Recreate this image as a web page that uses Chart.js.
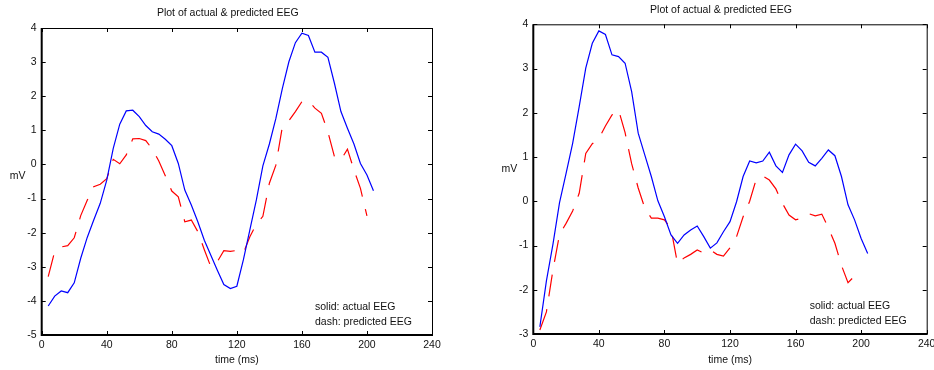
<!DOCTYPE html>
<html>
<head>
<meta charset="utf-8">
<script src="https://cdn.jsdelivr.net/npm/chart.js@4.4.1/dist/chart.umd.min.js"></script>
<style>
  html, body { margin: 0; padding: 0; background: #fff; overflow: hidden; }
  body { width: 934px; height: 370px; position: relative; }
  canvas { position: absolute; top: 0; }
  #chartLeft { left: 0; }
  #chartRight { left: 467px; }
</style>
</head>
<body>
<canvas id="chartLeft" width="467" height="370"></canvas>
<canvas id="chartRight" width="480" height="370"></canvas>
<script>
// time of each sample (ms)
const timesMs = [4, 8, 12, 16, 20, 24, 28, 32, 36, 40, 44, 48, 52, 56, 60, 64, 68, 72, 76, 80,
    84, 88, 92, 96, 100, 104, 108, 112, 116, 120, 124, 128, 132, 136, 140, 144, 148, 152, 156, 160,
    164, 168, 172, 176, 180, 184, 188, 192, 196, 200, 204];

// left panel (mV)
const leftActual = [-4.15, -3.86, -3.71, -3.76, -3.47, -2.75, -2.14, -1.63, -1.14, -0.46,
    0.47, 1.18, 1.57, 1.59, 1.40, 1.14, 0.96, 0.89, 0.74, 0.55,
    0.03, -0.75, -1.19, -1.68, -2.22, -2.66, -3.10, -3.52, -3.64, -3.57,
    -2.80, -1.92, -1.04, -0.04, 0.60, 1.35, 2.23, 3.01, 3.57, 3.85,
    3.78, 3.29, 3.29, 3.14, 2.38, 1.55, 1.06, 0.60, 0.03, -0.31, -0.77];
const leftPredicted = [-3.29, -2.55, -2.42, -2.38, -2.15, -1.50, -1.05, -0.65, -0.58, -0.42,
    0.15, 0.02, 0.28, 0.75, 0.76, 0.70, 0.45, 0.10, -0.33, -0.78,
    -0.95, -1.68, -1.63, -1.97, -2.50, -3.00, -2.85, -2.53, -2.55, -2.52,
    -2.60, -2.12, -1.75, -1.52, -0.55, -0.02, 1.11, 1.28, 1.55, 1.84,
    1.87, 1.65, 1.50, 0.95, 0.23, 0.13, 0.45, -0.16, -0.70, -1.51];

// right panel (mV)
const rightActual = [-2.84, -1.80, -0.97, -0.03, 0.63, 1.31, 2.14, 3.01, 3.57, 3.85,
    3.77, 3.31, 3.27, 3.12, 2.48, 1.54, 1.05, 0.56, 0.01, -0.35,
    -0.76, -0.95, -0.76, -0.65, -0.56, -0.80, -1.06, -0.94, -0.69, -0.46,
    -0.01, 0.56, 0.91, 0.87, 0.91, 1.11, 0.80, 0.65, 1.05, 1.29,
    1.14, 0.88, 0.80, 0.97, 1.16, 1.03, 0.56, -0.08, -0.42, -0.84, -1.18];
const rightPredicted = [-2.91, -2.50, -1.55, -0.75, -0.50, -0.22, 0.18, 1.08, 1.30, 1.42,
    1.70, 1.95, 2.07, 1.55, 0.85, 0.30, -0.15, -0.38, -0.38, -0.42,
    -0.62, -1.41, -1.28, -1.20, -1.10, -1.17, -1.10, -1.20, -1.24, -1.05,
    -0.80, -0.35, 0.00, 0.50, 0.57, 0.48, 0.28, -0.05, -0.31, -0.42,
    -0.38, -0.28, -0.33, -0.29, -0.60, -0.95, -1.45, -1.84, -1.69, -1.54];

const xTicks = [0, 40, 80, 120, 160, 200, 240];
const titleText = 'Plot of actual & predicted EEG';
const legendLines = ['solid: actual EEG', 'dash: predicted EEG'];

const FONT = '"Liberation Sans", Arial, sans-serif';
const FONT_SIZE = 10.5;

// MATLAB style box: frame, inward ticks, title, horizontal ylabel, text note
const matlabAxes = {
    id: 'matlabAxes',
    afterDraw(chart, args, opts) {
        const { ctx, chartArea: a, scales } = chart;
        const tl = 4;
        ctx.save();
        ctx.strokeStyle = '#000';

        ctx.lineWidth = 1;
        ctx.beginPath();
        ctx.moveTo(a.left, a.top + 0.5);
        ctx.lineTo(a.right + 0.5, a.top + 0.5);
        ctx.lineTo(a.right + 0.5, a.bottom);
        ctx.stroke();

        ctx.lineWidth = 2;
        ctx.beginPath();
        ctx.moveTo(a.left, a.top);
        ctx.lineTo(a.left, a.bottom);
        ctx.lineTo(a.right + 1, a.bottom);
        ctx.stroke();

        ctx.lineWidth = 1;
        ctx.beginPath();
        scales.x.ticks.forEach((t) => {
            const px = Math.round(scales.x.getPixelForValue(t.value)) + 0.5;
            ctx.moveTo(px, a.bottom);
            ctx.lineTo(px, a.bottom - tl);
            ctx.moveTo(px, a.top);
            ctx.lineTo(px, a.top + tl);
        });
        scales.y.ticks.forEach((t) => {
            const py = Math.round(scales.y.getPixelForValue(t.value)) + 0.5;
            ctx.moveTo(a.left, py);
            ctx.lineTo(a.left + tl, py);
            ctx.moveTo(a.right, py);
            ctx.lineTo(a.right - tl, py);
        });
        ctx.stroke();

        ctx.fillStyle = '#111';
        ctx.font = FONT_SIZE + 'px ' + FONT;
        ctx.textBaseline = 'middle';
        ctx.textAlign = 'center';
        ctx.fillText(opts.title, (a.left + a.right) / 2 - 9, a.top - 14.5);
        ctx.fillText('mV', a.left - 24, opts.yLabelY);
        ctx.textAlign = 'left';
        opts.note.forEach((line, i) => {
            ctx.fillText(line, a.right - 117, a.bottom - 28 + i * 15);
        });
        ctx.restore();
    }
};

function buildEegChart(canvas, actual, predicted, yMin, box) {
    const toPoints = (values) => values.map((v, i) => ({ x: timesMs[i], y: v }));

    const config = {
        type: 'line',
        data: {
            datasets: [
                {
                    label: 'actual EEG',
                    data: toPoints(actual),
                    borderColor: '#0000ff',
                    borderWidth: 1.2,
                    pointRadius: 0,
                    fill: false,
                    tension: 0,
                },
                {
                    label: 'predicted EEG',
                    data: toPoints(predicted),
                    borderColor: '#ff0000',
                    borderWidth: 1.2,
                    borderDash: [22, 13],
                    pointRadius: 0,
                    fill: false,
                    tension: 0,
                },
            ],
        },
        options: {
            responsive: false,
            animation: false,
            layout: {
                padding: { top: box.top, right: box.right, left: 0, bottom: 0 },
            },
            scales: {
                x: {
                    type: 'linear',
                    min: 0,
                    max: 240,
                    afterBuildTicks: (scale) => {
                        scale.ticks = xTicks.map((v) => ({ value: v }));
                    },
                    grid: { display: false, drawTicks: false },
                    border: { display: false },
                    ticks: {
                        padding: 4,
                        color: '#111',
                        font: { family: FONT, size: FONT_SIZE },
                        maxRotation: 0,
                    },
                    title: {
                        display: true,
                        text: 'time (ms)',
                        color: '#111',
                        font: { family: FONT, size: FONT_SIZE },
                        padding: { top: 0, bottom: 3.7 },
                    },
                    afterFit: (scale) => { scale.height = box.xAxisHeight; },
                },
                y: {
                    min: yMin,
                    max: 4,
                    ticks: {
                        stepSize: 1,
                        padding: 5,
                        color: '#111',
                        font: { family: FONT, size: FONT_SIZE },
                    },
                    grid: { display: false, drawTicks: false },
                    border: { display: false },
                    afterFit: (scale) => { scale.width = box.yAxisWidth; },
                },
            },
            plugins: {
                legend: { display: false },
                tooltip: { enabled: false },
                title: { display: false },
                matlabAxes: {
                    title: titleText,
                    note: legendLines,
                    yLabelY: box.yLabelY,
                },
            },
        },
        plugins: [matlabAxes],
    };

    return new Chart(canvas, config);
}

buildEegChart(document.getElementById('chartLeft'), leftActual, leftPredicted, -5,
    { top: 28, right: 35, xAxisHeight: 35, yAxisWidth: 41.7, yLabelY: 175.7 });
buildEegChart(document.getElementById('chartRight'), rightActual, rightPredicted, -3,
    { top: 24.3, right: 20.3, xAxisHeight: 36, yAxisWidth: 66.3, yLabelY: 169.3 });
</script>
</body>
</html>
